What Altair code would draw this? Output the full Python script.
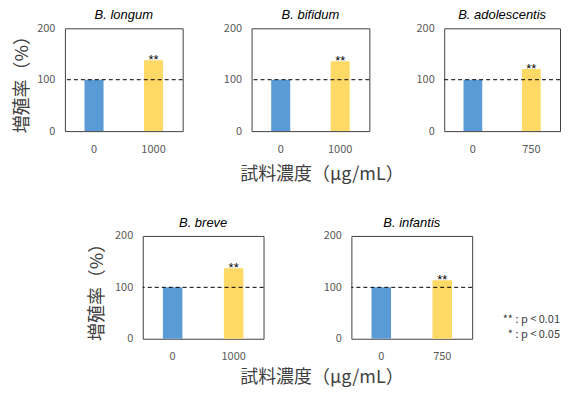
import altair as alt
import pandas as pd

# ---- data ----
strains = ["B. longum", "B. bifidum", "B. adolescentis", "B. breve", "B. infantis"]
control_conc = ["0", "0", "0", "0", "0"]
sample_conc = ["1000", "1000", "750", "1000", "750"]
control_vals = [100, 100, 100, 100, 100]
sample_vals = [138, 136, 121, 137, 114]
sig_marks = ["**", "**", "**", "**", "**"]
y_ticks = [0, 100, 200]
ref_line = [100]
y_title = "増殖率（%）"
x_title = "試料濃度（μg/mL）"
legend_lines = ["** : p < 0.01", "* : p < 0.05"]

BLUE = "#5B9BD5"
YELLOW = "#FFD966"
GREY = "#595959"
DARK = "#404040"
JP = "Noto Sans CJK JP"


def y_enc(field, ytitle_pad):
    kw = dict(
        values=y_ticks, ticks=False, domain=False, grid=False,
        labelColor=GREY, labelFontSize=11, labelFont=JP, labelPadding=10,
    )
    if ytitle_pad is not None:
        kw.update(titleFontSize=18, titleFont=JP, titleColor=DARK,
                  titleFontWeight="normal", titlePadding=ytitle_pad)
    return alt.Y(
        field,
        scale=alt.Scale(domain=[0, 200]),
        axis=alt.Axis(**kw),
        title=y_title if ytitle_pad is not None else None,
    )


def panel(i, width, ytitle_pad=None, xtitle_x=None, xtitle_pad=12, legend_x=None):
    df = pd.DataFrame({
        "conc": [control_conc[i], sample_conc[i]],
        "value": [control_vals[i], sample_vals[i]],
        "group": ["control", "sample"],
        "sig": ["", sig_marks[i]],
    })
    xkw = dict(labelAngle=0, ticks=False, domain=False, labelColor=GREY,
               labelFontSize=11, labelFont=JP, labelPadding=12)
    if xtitle_x is not None:
        xkw.update(titleX=xtitle_x, titleFontSize=18, titleFont=JP, titleColor=DARK,
                   titleFontWeight="normal", titlePadding=xtitle_pad)
    x_enc = alt.X(
        "conc:N",
        scale=alt.Scale(domain=[control_conc[i], sample_conc[i]],
                        paddingInner=0.68, paddingOuter=0.33),
        axis=alt.Axis(**xkw),
        title=x_title if xtitle_x is not None else None,
    )
    base = alt.Chart(df).encode(x=x_enc)
    bars = base.mark_bar().encode(
        y=y_enc("value:Q", ytitle_pad),
        color=alt.Color("group:N",
                        scale=alt.Scale(domain=["control", "sample"], range=[BLUE, YELLOW]),
                        legend=None),
    )
    rule = alt.Chart(pd.DataFrame({"ref": ref_line})).mark_rule(
        color="black", strokeDash=[4, 3], strokeWidth=1
    ).encode(y=y_enc("ref:Q", ytitle_pad))
    stars = base.mark_text(baseline="alphabetic", dy=4, fontSize=13, color="black").encode(
        y=y_enc("value:Q", ytitle_pad), text="sig:N"
    )
    layers = [bars, rule, stars]
    if legend_x is not None:
        leg = alt.Chart(pd.DataFrame({"t": ["\n".join(legend_lines)]})).mark_text(
            align="right", baseline="middle", lineBreak="\n", fontSize=11,
            lineHeight=15, color=DARK, font=JP
        ).encode(text="t:N", x=alt.value(legend_x), y=alt.value(84))
        layers.append(leg)
    return alt.layer(*layers).properties(
        width=width, height=103,
        title=alt.TitleParams(strains[i], fontStyle="italic", fontWeight="normal",
                              fontSize=13, color="black", font="Liberation Sans", offset=0),
    )


def spacer(w):
    return alt.Chart(pd.DataFrame({"s": [0]})).mark_point(opacity=0).encode(
        x=alt.value(0), y=alt.value(0)
    ).properties(width=w, height=103, view=alt.ViewBackground(strokeOpacity=0))


top = alt.hconcat(
    panel(0, 118, ytitle_pad=5), spacer(69),
    panel(1, 118, xtitle_x=70, xtitle_pad=11), spacer(75),
    panel(2, 116),
    spacing=0, bounds="flush",
)
bottom = alt.hconcat(
    spacer(78),
    panel(3, 121, ytitle_pad=8, xtitle_x=179, xtitle_pad=7), spacer(88),
    panel(4, 121, legend_x=209),
    spacing=0, bounds="flush",
)

chart = alt.vconcat(top, bottom, spacing=208, bounds="flush").properties(
    padding={"left": 5, "top": 0, "right": 0, "bottom": 0}
).configure(background="white").configure_view(stroke=DARK, strokeWidth=1)

chart.save("out.html", embed_options={"renderer": "svg", "actions": False})
